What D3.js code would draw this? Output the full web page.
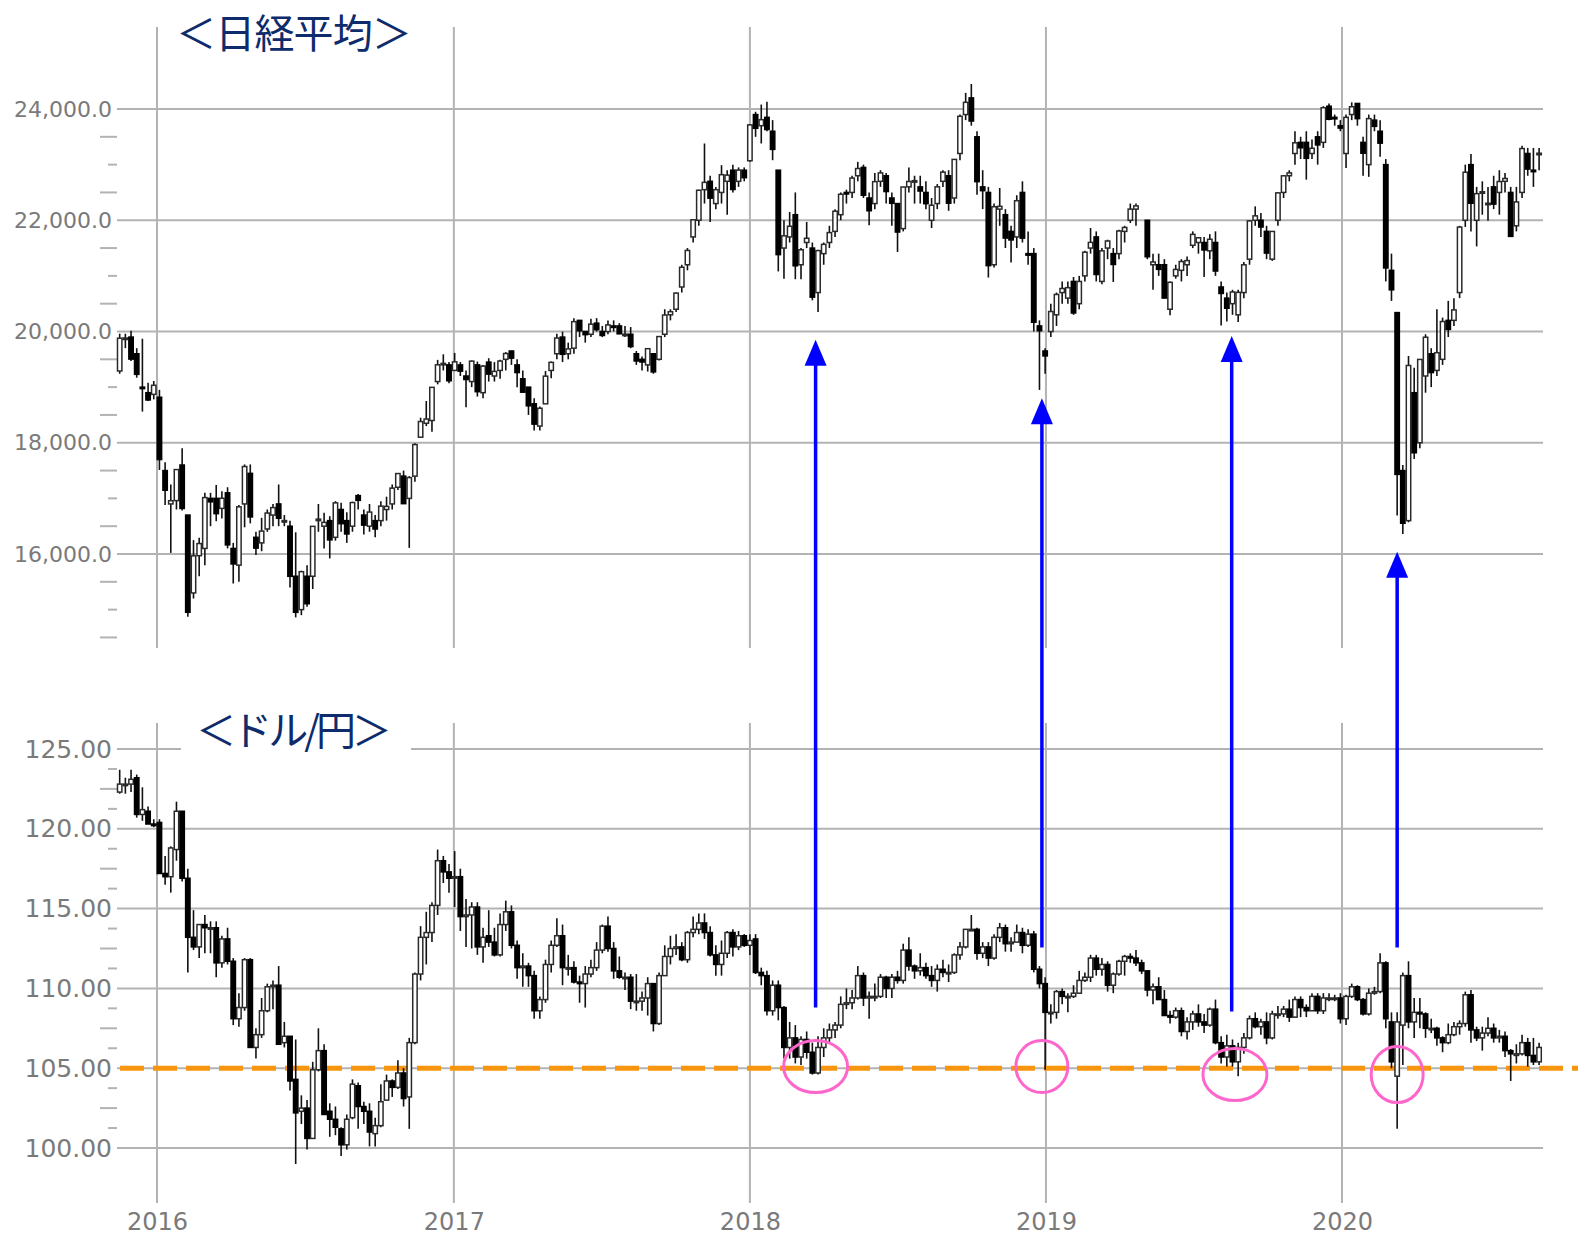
<!DOCTYPE html>
<html>
<head>
<meta charset="utf-8">
<script src="https://cdn.jsdelivr.net/npm/d3@7"></script>
<style>
  body { margin: 0; background: #fff; }
  svg { display: block; }
</style>
</head>
<body>
<svg id="chart" width="1582" height="1236"></svg>
<script>
// weekly candles, first week starts Monday 2015-11-16
const firstWeek = "2015-11-16";
const yearTicks = ["2016-01-01", "2017-01-01", "2018-01-01", "2019-01-01", "2020-01-01"];
const nkTicks = [16000, 18000, 20000, 22000, 24000];
const fxTicks = [100, 105, 110, 115, 120, 125];
const nkTitle = "＜日経平均＞";
const fxTitle = "＜ドル/円＞";
const supportLevel = 105;

// Nikkei 225 weekly OHLC (null = market closed)
const nkOpen = [
  19290, 19880, 19900, 19600, 19000, 18900, 18870, 18818, 17500, 16900,
  16960, 17600, 16700, 15300, 15970, 16100, 17000, 17000, 16820, 17100,
  16100, 15800, 16900, 17450, 16300, 16200, 16450, 16700, 16900, 16600,
  16500, 15600, 15000, 15600, 15600, 16600, 16500, 16600, 16300, 16800,
  16600, 16500, 17050, 16700, 16500, 16600, 16600, 16800, 16900, 17200,
  17400, 17000, 17400, 18100, 18350, 18400, 19100, 19400, 19400,
  19300, 19400, 19200, 19100, 19400, 18900, 19450, 19200, 19300, 19500,
  19650, 19400, 19150, 19000, 18700, 18300, 18700, 19300, 19600, 19900,
  19600, 19700, 20200, 20000, 19950, 20150, 20000, 20000, 20100, 20100,
  19950, 19950, 19600, 19500, 19400, 19600, 19500, 19950, 20300, 20400,
  20800, 21200, 21700, 22000, 22550, 22700, 22300, 22500, 22700, 22900, 22700, 22900,
  23070, 23900, 23700, 23850, 23600, 22900, 21500, 21700, 22100, 21200,
  21600, 21500, 20700, 21400, 21600, 21800, 22100, 22500, 22500, 22800,
  22950, 22400, 22300, 22700, 22800, 22400, 22300, 21850, 22600, 22700,
  22600, 22500, 22000, 22300, 22700, 22800, 22400, 23200, 23900, 24200,
  23500, 22600, 22500, 21200, 22200, 22100, 21800, 21700, 22500, 21400,
  21400, 20100, 19650, 20000, 20300, 20700, 20600, 20900, 20500, 21000,
  21500, 21700, 20900, 21500, 21400, 21400, 21800, 22000, 22200, null,
  22000, 21200, 21200, 21200, 20400, 21000, 21100, 21200, 21550, 21600,
  21600, 21450, 21600, 20800, 20600, 20500, 20300, 20700, 21300, 22000,
  22000, 21800, 21300, 22000, 22500, 22800, 23200, 23400, 23400, 23200,
  23500, 23400, 24050, 23850, 23700, 23200, 23900, 24100, 23400, 23000,
  23800, 23600, 23000, 21100, 20340, 17500, 16600, 18900, 18000, 19200,
  19600, 19300, 19500, 20200, 20200, 20700, 22000, 23000, 22000, 22500,
  22300, 22600, 22500, 22700, 22500, 21900, 22500, 23200, 22900, 23200
];
const nkHigh = [
  19960, 19960, 20012, 19700, 19870, 19080, 19110, 18951, 17650, 17250,
  17520, 17900, 16700, 16250, 16290, 17100, 17100, 17240, 17130, 17200,
  16200, 16880, 17610, 17610, 16400, 16650, 16800, 16900, 17250, 16700,
  16600, 16390, 15700, 15800, 16500, 16900, 16740, 16680, 16950, 16920,
  16750, 16940, 17080, 16800, 16900, 16700, 16950, 17030, 17250, 17450,
  17500, 17400, 17990, 18450, 18750, 19000, 19490, 19590, 19450,
  19615, 19450, 19300, 19480, 19460, 19400, 19520, 19450, 19490, 19630,
  19650, 19500, 19300, 19000, 18800, 18650, 19290, 19460, 19960, 19998,
  19800, 20240, 20200, 20000, 20230, 20240, 20100, 20200, 20200, 20150,
  20100, 20080, 19650, 19550, 19700, 19600, 19920, 20400, 20400, 20700,
  21200, 21500, 22010, 22550, 23380, 22800, 22600, 22990, 22900, 23000, 22950, 22950,
  23730, 23950, 24080, 24130, 23800, 22900, 22000, 22150, 22500, 21500,
  21970, 21600, 21470, 21600, 21900, 22200, 22500, 22550, 22800, 23050,
  23000, 22500, 22850, 22900, 22850, 22500, 22300, 22600, 22950, 22800,
  22800, 22700, 22400, 22650, 22900, 22900, 23100, 23900, 24290, 24450,
  23600, 22900, 22600, 22300, 22580, 22200, 21900, 22450, 22700, 21800,
  21500, 20200, 19700, 20500, 20700, 20900, 20900, 20980, 21000, 21450,
  21860, 21800, 21500, 21650, 21500, 21830, 21900, 22300, 22300, null,
  22000, 21400, 21400, 21300, 20900, 21200, 21300, 21350, 21800, 21700,
  21700, 21750, 21800, 20900, 20700, 20750, 20750, 21250, 22000, 22250,
  22130, 21900, 21800, 22500, 22800, 22900, 23600, 23500, 23600, 23450,
  23600, 24050, 24100, 23900, 23800, 23900, 24120, 24100, 23500, 23900,
  23900, 23800, 23100, 21400, 20350, 17600, 19560, 19350, 19500, 19950,
  19700, 20400, 20250, 20550, 20600, 21900, 23000, 23190, 22600, 22700,
  22600, 22800, 22900, 22850, 22600, 22600, 23340, 23300, 23300, 23300
];
const nkLow = [
  19240, 19700, 19470, 19170, 18560, 18750, 18780, 17510, 16880, 16020,
  16800, 16780, 14870, 15200, 15600, 15800, 16500, 16590, 16640, 16100,
  15470, 15500, 16480, 16550, 15980, 16050, 16400, 16500, 16500, 16500,
  15400, 14860, 14900, 15050, 15370, 16400, 16100, 15920, 16240, 16400,
  16200, 16400, 16800, 16350, 16400, 16300, 16500, 16600, 16800, 17150,
  16900, 16110, 17300, 18100, 18300, 18200, 19050, 19300, 19070,
  19300, 19200, 18640, 19000, 18830, 18800, 19100, 19100, 19150, 19300,
  19400, 19000, 18900, 18500, 18220, 18220, 18700, 19160, 19500, 19450,
  19500, 19600, 19900, 19800, 19900, 20000, 19900, 19950, 20000, 19950,
  19900, 19700, 19400, 19300, 19280, 19240, 19480, 19900, 20200, 20350,
  20700, 21100, 21600, 21900, 22300, 21970, 22200, 22300, 22100, 22500, 22600, 22700,
  23050, 23500, 23380, 23600, 23080, 21080, 20950, 21600, 20940, 20940,
  21500, 20560, 20350, 21200, 21500, 21700, 22000, 22300, 22400, 22700,
  22400, 21910, 22200, 22600, 22300, 21900, 21430, 21800, 22500, 22300,
  22300, 22200, 21860, 22200, 22600, 22170, 22300, 23080, 23800, 23700,
  22460, 22200, 20970, 21150, 21900, 21500, 21240, 21500, 21600, 21200,
  20000, 18950, 19240, 19900, 20100, 20500, 20500, 20300, 20400, 20900,
  21400, 20900, 20850, 21300, 20890, 21300, 21600, 21950, 21900, null,
  21300, 20750, 21000, 20600, 20290, 20950, 20900, 21000, 21500, 21400,
  20980, 21300, 21000, 20110, 20180, 20300, 20170, 20600, 21200, 21900,
  21700, 21300, 21270, 21900, 22400, 22700, 23000, 23100, 22730, 23100,
  23000, 23300, 23800, 23700, 23600, 22940, 23800, 23700, 22800, 22780,
  23600, 23140, 20900, 20550, 16690, 16360, 16570, 17710, 17900, 18900,
  19000, 19200, 19400, 19900, 20100, 20600, 21880, 21800, 21530, 22100,
  21990, 22200, 22100, 22500, 21700, 21800, 22400, 22800, 22600, 22900
];
const nkClose = [
  19880, 19883, 19504, 19230, 18986, 18769, 19033, 17698, 17147, 16958,
  17518, 16819, 14952, 15967, 16188, 17014, 16938, 16725, 17002, 16164,
  15821, 16848, 17572, 16666, 16106, 16412, 16736, 16834, 16642, 16601,
  15599, 14952, 15682, 15106, 16497, 16627, 16569, 16254, 16919, 16545,
  16360, 16925, 16965, 16519, 16754, 16449, 16860, 16856, 17184, 17446,
  16905, 17374, 17967, 18381, 18426, 18996, 19401, 19427, 19114,
  19454, 19287, 19137, 19467, 18918, 19378, 19234, 19283, 19469, 19604,
  19521, 19262, 18909, 18664, 18335, 18620, 19197, 19445, 19883, 19590,
  19687, 20177, 20013, 19943, 20132, 20033, 19929, 20118, 20099, 19959,
  19952, 19729, 19470, 19452, 19691, 19274, 19909, 20296, 20356, 20690,
  21155, 21457, 22008, 22539, 22681, 22397, 22550, 22819, 22811, 22553, 22902, 22765,
  23714, 23653, 23808, 23631, 23274, 21382, 21720, 21892, 21181, 21469,
  21676, 20617, 21454, 21567, 21778, 22162, 22467, 22472, 22758, 22930,
  22450, 22171, 22694, 22851, 22516, 22304, 21788, 22597, 22697, 22712,
  22525, 22298, 22270, 22601, 22865, 22307, 23094, 23869, 24120, 23784,
  22694, 22532, 21184, 22243, 22250, 21680, 21646, 22351, 21678, 21374,
  20166, 20014, 19561, 20359, 20666, 20773, 20788, 20333, 20900, 21425,
  21602, 21025, 21450, 21627, 21205, 21807, 21870, 22200, 22258, null,
  21344, 21250, 21117, 20601, 20884, 21116, 21258, 21275, 21746, 21685,
  21466, 21658, 21087, 20684, 20418, 20710, 20704, 21199, 21988, 22079,
  21878, 21410, 21799, 22492, 22799, 22851, 23392, 23303, 23113, 23294,
  23354, 24023, 23816, 23837, 23657, 23850, 24041, 23827, 23205, 23827,
  23688, 23386, 21142, 20749, 17431, 16552, 19389, 17820, 19498, 19897,
  19262, 19619, 20179, 20037, 20388, 21877, 22863, 22305, 22478, 22512,
  22306, 22290, 22696, 22751, 21710, 22329, 23289, 22920, 22882, 23205
];

// USD/JPY weekly OHLC
const fxOpen = [
  122.3, 122.8, 122.8, 123.2, 120.9, 121.1, 120.3, 120.4, 117.2, 117.0,
  118.7, 121.1, 116.9, 113.2, 112.6, 114.0, 113.8, 113.8, 111.6, 113.1,
  111.7, 108.1, 108.8, 111.8, 106.3, 107.1, 108.6, 110.1, 110.2, 106.6,
  107.0, 104.3, 102.3, 102.5, 100.6, 104.9, 106.1, 102.3, 101.8, 101.2,
  100.2, 101.9, 103.9, 102.6, 102.3, 100.9, 101.4, 103.0, 104.2, 103.8,
  104.7, 103.2, 106.6, 110.9, 113.2, 113.5, 115.2, 118.0, 117.3,
  117.0, 117.0, 114.5, 114.6, 115.1, 112.6, 113.3, 112.9, 112.1, 114.0,
  114.8, 112.7, 111.3, 111.4, 110.8, 108.6, 109.3, 111.5, 112.7, 113.3,
  111.3, 111.3, 110.4, 110.3, 110.9, 111.3, 112.4, 113.9, 112.5, 111.1,
  110.7, 110.7, 109.2, 109.2, 109.4, 110.3, 107.8, 110.8, 112.0, 112.5,
  112.6, 111.8, 113.5, 113.7, 114.1, 113.5, 112.1, 111.5, 112.2, 113.5, 112.6, 113.3,
  112.7, 113.1, 111.0, 110.8, 108.6, 110.2, 108.8, 106.3, 106.9, 105.7,
  106.8, 106.0, 104.7, 106.3, 106.9, 107.4, 107.7, 109.0, 109.1, 109.4,
  110.8, 109.4, 109.5, 109.5, 110.7, 110.0, 110.7, 110.5, 112.4, 111.4,
  111.1, 111.3, 110.8, 110.5, 111.2, 111.0, 111.0, 112.1, 112.6, 113.7,
  113.7, 112.2, 112.6, 111.9, 113.2, 113.8, 112.8, 112.9, 113.5, 112.7,
  113.4, 111.2, 110.3, 108.5, 108.5, 109.8, 109.5, 109.5, 109.7, 110.5,
  110.7, 111.9, 111.2, 111.5, 110.2, 110.9, 111.7, 112.0, 111.9, 111.6,
  111.1, 109.9, 110.1, 109.3, 108.3, 108.2, 108.6, 107.3, 107.9, 108.4,
  107.9, 107.7, 108.7, 106.6, 105.7, 106.4, 105.4, 106.3, 106.9, 108.1,
  107.6, 107.9, 106.9, 108.4, 108.4, 108.7, 108.2, 109.3, 108.8, 108.6,
  109.5, 108.6, 109.4, 109.4, 109.4, 108.1, 109.5, 110.1, 109.3, 108.4,
  109.7, 109.8, 111.6, 107.9, 104.5, 107.7, 110.8, 107.9, 108.5, 108.4,
  107.5, 107.5, 106.9, 106.6, 107.1, 107.6, 107.8, 109.6, 107.4, 106.9,
  107.2, 107.5, 106.9, 107.0, 106.1, 105.8, 105.9, 106.6, 105.8, 105.4
];
const fxHigh = [
  123.7, 123.2, 123.7, 123.4, 122.6, 121.4, 120.6, 120.6, 118.3, 118.9,
  121.7, 121.1, 117.5, 114.9, 114.0, 114.6, 114.2, 114.2, 113.3, 113.8,
  111.9, 109.7, 111.9, 111.9, 107.5, 109.4, 110.3, 110.5, 111.4, 107.9,
  107.0, 106.8, 103.3, 103.0, 105.4, 107.5, 106.5, 102.8, 102.6, 101.3,
  102.1, 104.3, 104.1, 102.9, 102.8, 101.9, 104.0, 104.6, 104.3, 105.5,
  105.0, 106.9, 111.0, 113.9, 114.8, 115.4, 118.7, 118.3, 117.8,
  118.6, 117.5, 115.6, 115.4, 115.4, 113.8, 114.9, 113.8, 114.7, 115.5,
  115.2, 113.0, 112.2, 111.6, 111.1, 109.5, 111.8, 113.0, 114.4, 114.0,
  112.1, 111.7, 110.8, 111.4, 111.8, 112.9, 114.0, 114.5, 112.9, 112.0,
  111.0, 110.9, 110.9, 109.8, 110.7, 110.3, 111.0, 112.7, 113.3, 113.4,
  112.9, 113.6, 114.5, 114.7, 114.7, 113.9, 112.7, 113.0, 113.6, 113.7, 113.6, 113.4,
  113.4, 113.4, 111.3, 111.1, 110.5, 110.5, 108.9, 107.9, 107.7, 107.0,
  107.3, 106.6, 107.0, 107.5, 107.8, 107.9, 109.5, 110.0, 109.9, 111.4,
  111.0, 109.8, 110.3, 110.9, 110.8, 110.9, 111.1, 112.8, 113.2, 111.5,
  112.2, 111.6, 111.4, 111.5, 111.8, 111.5, 112.2, 112.9, 113.7, 114.6,
  113.8, 112.9, 112.9, 113.4, 114.1, 114.0, 113.2, 114.0, 113.8, 113.7,
  113.6, 111.4, 110.7, 109.0, 109.9, 110.0, 109.7, 110.2, 111.1, 111.0,
  112.1, 112.1, 111.9, 111.7, 111.0, 111.8, 112.1, 112.2, 112.4, 111.8,
  111.1, 110.3, 110.7, 109.9, 108.6, 108.8, 108.8, 108.2, 108.6, 109.0,
  108.4, 108.8, 109.3, 107.0, 107.1, 106.8, 106.6, 107.2, 108.3, 108.5,
  108.1, 108.5, 108.6, 108.9, 108.9, 109.3, 109.5, 109.5, 109.0, 109.7,
  109.7, 109.7, 109.7, 109.6, 109.7, 109.6, 110.3, 110.2, 109.4, 110.0,
  110.1, 112.2, 111.7, 108.5, 108.5, 111.0, 111.7, 109.4, 109.4, 108.5,
  108.1, 107.6, 107.0, 107.8, 107.9, 108.0, 109.8, 109.9, 107.6, 107.6,
  108.2, 107.8, 107.4, 107.3, 106.2, 106.5, 107.1, 106.9, 106.9, 106.6
];
const fxLow = [
  122.2, 122.2, 122.3, 120.7, 120.5, 120.3, 120.1, 117.3, 116.5, 116.0,
  118.0, 116.7, 111.0, 112.4, 111.9, 112.2, 112.2, 110.7, 111.3, 111.5,
  107.7, 107.6, 108.6, 106.3, 105.6, 106.9, 108.5, 108.7, 106.5, 106.3,
  103.6, 99.0, 101.5, 99.9, 100.6, 104.8, 102.1, 100.7, 100.8, 99.5,
  99.9, 101.8, 101.2, 101.5, 100.1, 100.1, 101.3, 103.0, 103.2, 103.7,
  102.6, 101.2, 106.5, 110.5, 111.5, 112.9, 114.6, 116.6, 116.0,
  115.1, 113.6, 112.6, 112.5, 112.1, 111.6, 112.6, 112.0, 112.0, 113.6,
  112.5, 110.6, 110.1, 110.1, 108.1, 108.1, 109.1, 111.0, 112.6, 110.2,
  110.8, 110.3, 109.1, 108.8, 110.7, 111.1, 112.2, 112.3, 110.6, 110.6,
  109.9, 108.7, 108.6, 108.6, 108.3, 107.3, 107.7, 110.8, 111.5, 112.1,
  111.7, 111.6, 113.2, 113.4, 113.1, 112.0, 110.8, 110.8, 111.9, 112.0, 112.4, 112.6,
  112.1, 110.9, 110.2, 108.3, 108.3, 108.0, 105.6, 105.6, 105.3, 105.2,
  105.6, 104.6, 104.6, 105.7, 106.6, 106.9, 107.5, 108.7, 108.7, 109.3,
  108.9, 108.1, 109.2, 109.4, 109.4, 109.4, 110.3, 110.3, 111.1, 110.6,
  110.8, 110.6, 110.1, 109.8, 110.7, 110.4, 110.9, 111.8, 112.5, 113.6,
  111.8, 111.9, 111.4, 111.8, 112.9, 112.3, 112.3, 112.9, 112.2, 112.6,
  111.0, 110.0, 104.9, 107.8, 108.1, 109.0, 108.5, 109.4, 109.7, 110.4,
  110.4, 110.8, 110.8, 109.8, 109.7, 110.8, 110.8, 111.6, 111.4, 110.9,
  109.5, 109.0, 109.3, 108.3, 107.8, 108.1, 107.0, 106.8, 107.4, 107.6,
  107.2, 107.6, 106.5, 105.3, 105.1, 105.1, 104.5, 105.9, 106.8, 107.5,
  107.1, 106.5, 106.8, 108.1, 108.2, 107.9, 108.2, 108.2, 108.2, 108.6,
  108.4, 108.4, 109.2, 109.2, 107.8, 107.7, 109.4, 109.2, 108.3, 108.3,
  109.6, 109.7, 107.5, 105.0, 101.2, 105.2, 107.5, 106.9, 107.5, 106.9,
  107.2, 106.4, 106.0, 106.5, 107.0, 107.1, 107.6, 106.6, 106.7, 106.1,
  107.0, 106.6, 106.6, 105.7, 104.2, 105.3, 105.8, 105.1, 105.2, 105.2
];
const fxClose = [
  122.8, 122.8, 123.1, 120.9, 121.2, 120.3, 120.2, 117.2, 117.0, 118.8,
  121.1, 116.9, 113.2, 112.6, 114.0, 113.8, 113.8, 111.6, 113.1, 111.7,
  108.1, 108.8, 111.8, 106.3, 107.1, 108.6, 110.1, 110.2, 106.5, 107.0,
  104.2, 102.2, 102.5, 100.6, 104.9, 106.1, 102.1, 101.8, 101.3, 100.2,
  101.8, 104.0, 102.6, 102.3, 101.0, 101.4, 102.9, 104.2, 103.8, 104.7,
  103.1, 106.6, 110.9, 113.2, 113.5, 115.2, 118.0, 117.3, 116.9,
  117.0, 114.5, 114.6, 115.1, 112.6, 113.2, 112.9, 112.1, 114.0, 114.8,
  112.7, 111.3, 111.4, 110.8, 108.6, 109.3, 111.5, 112.7, 113.3, 111.3,
  111.3, 110.4, 110.3, 110.9, 111.3, 112.4, 113.9, 112.5, 111.1, 110.7,
  110.7, 109.2, 109.2, 109.4, 110.3, 107.8, 110.8, 112.0, 112.5, 112.6,
  111.8, 113.5, 113.7, 114.1, 113.5, 112.1, 111.5, 112.2, 113.5, 112.6, 113.3, 112.7,
  113.0, 111.0, 110.8, 108.6, 110.2, 108.8, 106.3, 106.9, 105.7, 106.8,
  106.0, 104.7, 106.3, 106.9, 107.4, 107.7, 109.0, 109.1, 109.4, 110.8,
  109.4, 109.5, 109.5, 110.7, 110.0, 110.7, 110.5, 112.4, 111.4, 111.1,
  111.3, 110.8, 110.5, 111.2, 111.0, 111.0, 112.1, 112.6, 113.7, 113.7,
  112.2, 112.6, 111.9, 113.2, 113.8, 112.8, 112.9, 113.5, 112.7, 113.4,
  111.2, 110.3, 108.5, 108.5, 109.8, 109.5, 109.5, 109.7, 110.5, 110.7,
  111.9, 111.2, 111.5, 110.2, 110.9, 111.7, 112.0, 111.9, 111.6, 111.1,
  109.9, 110.1, 109.3, 108.3, 108.2, 108.6, 107.3, 107.9, 108.4, 107.9,
  107.7, 108.7, 106.6, 105.7, 106.4, 105.4, 106.3, 106.9, 108.1, 107.6,
  107.9, 106.9, 108.4, 108.4, 108.7, 108.2, 109.3, 108.8, 108.6, 109.5,
  108.6, 109.4, 109.4, 109.4, 108.1, 109.5, 110.1, 109.3, 108.4, 109.7,
  109.8, 111.6, 108.1, 105.4, 107.9, 110.8, 107.9, 108.5, 108.4, 107.5,
  107.5, 106.9, 106.6, 107.1, 107.6, 107.8, 109.6, 107.4, 106.9, 107.2,
  107.5, 106.9, 107.0, 106.1, 105.9, 105.9, 106.6, 105.8, 105.4, 106.3
];

// annotations: arrow from USD/JPY level up to Nikkei level, rings on the 105 line
const arrowDates = ["2018-03-23", "2018-12-27", "2019-08-18", "2020-03-09"];
const arrowFromFx = [108.8, 112.56, 108.56, 112.56];
const arrowToNk = [19850, 18800, 19920, 16040];
const ringDates = ["2018-03-23", "2018-12-27", "2019-08-22", "2020-03-09"];
const ringFx = [105.1, 105.1, 104.6, 104.6];

function main() {
  const parse = d3.timeParse("%Y-%m-%d");
  const svg = d3.select("#chart");

  const x = d3.scaleTime()
    .domain([parse("2016-01-01"), parse("2020-01-01")])
    .range([157, 1342]);
  const yNk = d3.scaleLinear().domain([16000, 24000]).range([554, 109]);
  const yFx = d3.scaleLinear().domain([100, 125]).range([1148, 749]);

  const start = parse(firstWeek);
  const weeks = d3.range(nkClose.length).map(i => d3.timeMonday.offset(start, i));

  const gridColor = "#b3b3b3";
  const labelColor = "#7a7a7a";
  const left = 117, right = 1543;

  // ---- grid lines
  function grid(yScale, ticks, top, bottom) {
    const g = svg.append("g");
    g.selectAll("line.h").data(ticks).enter().append("line")
      .attr("x1", left).attr("x2", right)
      .attr("y1", d => yScale(d)).attr("y2", d => yScale(d))
      .attr("stroke", gridColor).attr("stroke-width", 2);
    g.selectAll("line.v").data(yearTicks).enter().append("line")
      .attr("x1", d => x(parse(d))).attr("x2", d => x(parse(d)))
      .attr("y1", top).attr("y2", bottom)
      .attr("stroke", gridColor).attr("stroke-width", 2);
  }
  grid(yNk, nkTicks, 27, 648);
  grid(yFx, fxTicks, 723, 1203);

  // ---- y axes (labels + minor ticks)
  function yAxis(yScale, ticks, fmt, fontSize, minorStep, lo, hi) {
    const ax = svg.append("g")
      .attr("transform", `translate(${left},0)`)
      .call(d3.axisLeft(yScale).tickValues(ticks).tickFormat(fmt).tickSize(0).tickPadding(5));
    ax.select(".domain").remove();
    ax.selectAll("text")
      .attr("fill", labelColor)
      .style("font-family", "'DejaVu Sans', Verdana, sans-serif")
      .style("font-size", fontSize + "px");

    const minor = d3.range(lo, hi + minorStep / 2, minorStep)
      .filter(v => !ticks.some(t => Math.abs(t - v) < 1e-6));
    svg.append("g").selectAll("line").data(minor).enter().append("line")
      .attr("x1", d => (Math.round((d - lo) / minorStep) % 2 === 0) ? left - 17 : left - 9)
      .attr("x2", left)
      .attr("y1", d => yScale(d)).attr("y2", d => yScale(d))
      .attr("stroke", gridColor).attr("stroke-width", 2);
  }
  yAxis(yNk, nkTicks, d3.format(",.1f"), 22, 500, 14500, 24000);
  yAxis(yFx, fxTicks, d3.format(".2f"), 25, 1.25, 100, 125);

  // ---- x axis labels
  const xa = svg.append("g")
    .attr("transform", "translate(0,1203)")
    .call(d3.axisBottom(x).tickValues(yearTicks.map(parse)).tickFormat(d3.timeFormat("%Y")).tickSize(0).tickPadding(10));
  xa.select(".domain").remove();
  xa.selectAll("text")
    .attr("fill", labelColor)
    .style("font-family", "'DejaVu Sans', Verdana, sans-serif")
    .style("font-size", "24px");

  // ---- support line at 105 yen
  svg.append("line")
    .attr("x1", 120).attr("x2", 1578)
    .attr("y1", yFx(supportLevel)).attr("y2", yFx(supportLevel))
    .attr("stroke", "#f7950f").attr("stroke-width", 5)
    .attr("stroke-dasharray", "24,9");

  // ---- candles
  function candles(open, high, low, close, yScale) {
    const data = weeks.map((d, i) => ({ date: d, o: open[i], h: high[i], l: low[i], c: close[i] }))
      .filter(d => d.c != null);
    const g = svg.append("g");
    const bw = 4.4;
    g.selectAll("line").data(data).enter().append("line")
      .attr("x1", d => x(d.date)).attr("x2", d => x(d.date))
      .attr("y1", d => yScale(d.h)).attr("y2", d => yScale(d.l))
      .attr("stroke", "#111").attr("stroke-width", 1.6);
    g.selectAll("rect").data(data).enter().append("rect")
      .attr("x", d => x(d.date) - bw / 2)
      .attr("width", bw)
      .attr("y", d => yScale(Math.max(d.o, d.c)))
      .attr("height", d => Math.max(1.5, Math.abs(yScale(d.o) - yScale(d.c))))
      .attr("fill", d => d.c >= d.o ? "#fff" : "#000")
      .attr("stroke", d => d.c >= d.o ? "#2a2a2a" : "#000")
      .attr("stroke-width", 1.5);
  }
  candles(nkOpen, nkHigh, nkLow, nkClose, yNk);
  candles(fxOpen, fxHigh, fxLow, fxClose, yFx);

  // ---- titles
  svg.append("text")
    .attr("x", 176).attr("y", 48)
    .attr("fill", "#0e2b6b")
    .style("font-family", "'Noto Sans CJK JP', sans-serif")
    .style("font-size", "40px")
    .attr("textLength", 236)
    .text(nkTitle);
  svg.append("rect")
    .attr("x", 181).attr("y", 700).attr("width", 230).attr("height", 58)
    .attr("fill", "#fff");
  svg.append("text")
    .attr("x", 196).attr("y", 745)
    .attr("fill", "#0e2b6b")
    .style("font-family", "'Noto Sans CJK JP', sans-serif")
    .style("font-size", "40px")
    .attr("textLength", 196)
    .text(fxTitle);

  // ---- rings on the 105 line
  const ringRx = [32, 26, 32, 26], ringRy = [26, 26, 26, 28];
  svg.append("g").selectAll("ellipse").data(ringDates).enter().append("ellipse")
    .attr("cx", d => x(parse(d)))
    .attr("cy", (d, i) => yFx(ringFx[i]))
    .attr("rx", (d, i) => ringRx[i]).attr("ry", (d, i) => ringRy[i])
    .attr("fill", "none").attr("stroke", "#ff66cc").attr("stroke-width", 3);

  // ---- blue arrows
  const ag = svg.append("g");
  arrowDates.forEach((d, i) => {
    const ax = x(parse(d));
    const yTip = yNk(arrowToNk[i]);
    const yBase = yFx(arrowFromFx[i]);
    ag.append("line")
      .attr("x1", ax).attr("x2", ax)
      .attr("y1", yBase).attr("y2", yTip + 20)
      .attr("stroke", "#0000ff").attr("stroke-width", 3.5);
    ag.append("path")
      .attr("d", `M${ax},${yTip} L${ax - 11},${yTip + 26} L${ax + 11},${yTip + 26} Z`)
      .attr("fill", "#0000ff");
  });
}

main();
</script>
</body>
</html>
